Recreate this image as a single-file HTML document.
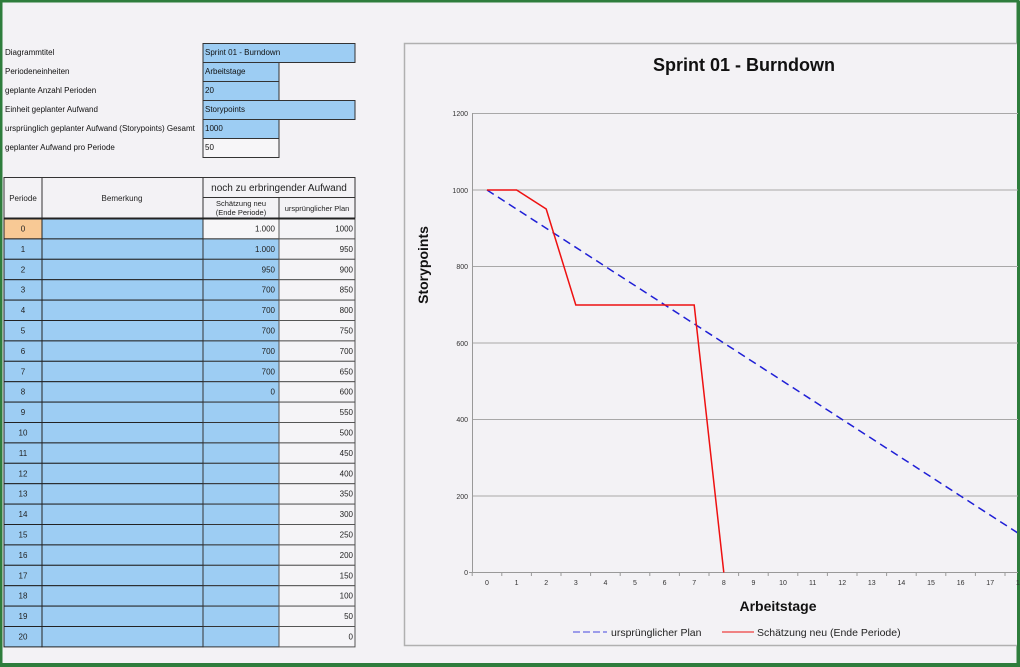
<!DOCTYPE html>
<html><head><meta charset="utf-8"><style>
html,body{margin:0;padding:0;background:#f3f2f5;}
svg{display:block;font-family:"Liberation Sans",Arial,sans-serif;}
</style></head><body>
<svg width="1020" height="667" viewBox="0 0 1020 667" xmlns="http://www.w3.org/2000/svg">
<rect x="0" y="0" width="1020" height="667" fill="#f3f2f5"/>
<rect x="1" y="1" width="1017" height="664" fill="none" stroke="#2e7d3c" stroke-width="3"/>

<g font-size="8" fill="#111">
<text x="5" y="55">Diagrammtitel</text>
<text x="5" y="74">Periodeneinheiten</text>
<text x="5" y="93">geplante Anzahl Perioden</text>
<text x="5" y="112">Einheit geplanter Aufwand</text>
<text x="5" y="131">ursprünglich geplanter Aufwand (Storypoints) Gesamt</text>
<text x="5" y="150">geplanter Aufwand pro Periode</text>
</g>
<g stroke="#333" stroke-width="1">
<rect x="203" y="43.5" width="152" height="19" fill="#9dcdf3"/>
<rect x="203" y="62.5" width="76" height="19" fill="#9dcdf3"/>
<rect x="203" y="81.5" width="76" height="19" fill="#9dcdf3"/>
<rect x="203" y="100.5" width="152" height="19" fill="#9dcdf3"/>
<rect x="203" y="119.5" width="76" height="19" fill="#9dcdf3"/>
<rect x="203" y="138.5" width="76" height="19" fill="#f7f6f8"/>
</g>
<g font-size="8" fill="#111">
<text x="205" y="55">Sprint 01 - Burndown</text>
<text x="205" y="74">Arbeitstage</text>
<text x="205" y="93">20</text>
<text x="205" y="112">Storypoints</text>
<text x="205" y="131">1000</text>
<text x="205" y="150">50</text>
</g>

<g stroke="#333" stroke-width="1" fill="#f3f2f5">
<rect x="4" y="177.5" width="38" height="41"/>
<rect x="42" y="177.5" width="161" height="41"/>
<rect x="203" y="177.5" width="152" height="20"/>
<rect x="203" y="197.5" width="76" height="21"/>
<rect x="279" y="197.5" width="76" height="21"/>
</g>
<g font-size="8" fill="#222" text-anchor="middle">
<text x="23" y="201">Periode</text>
<text x="122" y="201">Bemerkung</text>
<text x="279" y="191" font-size="10">noch zu erbringender Aufwand</text>
<text x="241" y="206" font-size="7.5">Schätzung neu</text>
<text x="241" y="215" font-size="7.5">(Ende Periode)</text>
<text x="317" y="211" font-size="7.5">ursprünglicher Plan</text>
</g>

<g id="rows" stroke="#222" stroke-width="1"></g>
<g id="rowtext" font-size="8" fill="#222"></g>

<rect x="404.5" y="43.5" width="620" height="602" fill="#f3f2f5" stroke="#b0b0b0" stroke-width="1.5"/>
<rect x="1017" y="1" width="3" height="666" fill="#2e7d3c"/>
<rect x="0" y="663" width="1020" height="4" fill="#2e7d3c"/>
<text x="744" y="71" font-size="18" font-weight="bold" text-anchor="middle" fill="#111">Sprint 01 - Burndown</text>
<g stroke="#a8a8a8" stroke-width="1">
<line x1="473" y1="113.5" x2="1018" y2="113.5"/>
<line x1="473" y1="190" x2="1018" y2="190"/>
<line x1="473" y1="266.5" x2="1018" y2="266.5"/>
<line x1="473" y1="343" x2="1018" y2="343"/>
<line x1="473" y1="419.5" x2="1018" y2="419.5"/>
<line x1="473" y1="496" x2="1018" y2="496"/>
<line x1="472.5" y1="113" x2="472.5" y2="573" stroke="#999"/>
<line x1="469" y1="572.5" x2="1018" y2="572.5" stroke="#999"/>
</g>
<g font-size="7" fill="#333" text-anchor="end">
<text x="468" y="116">1200</text><text x="468" y="193">1000</text><text x="468" y="269">800</text>
<text x="468" y="346">600</text><text x="468" y="422">400</text><text x="468" y="499">200</text><text x="468" y="575">0</text>
</g>
<g id="xt" font-size="7" fill="#333" text-anchor="middle" stroke="none"></g>
<text x="778" y="611" font-size="14" font-weight="bold" text-anchor="middle" fill="#111">Arbeitstage</text>
<text transform="translate(428,265) rotate(-90)" font-size="14" font-weight="bold" text-anchor="middle" fill="#111">Storypoints</text>
<svg x="0" y="0" width="1017" height="667">
<line x1="487" y1="190" x2="1079" y2="572.5" stroke="#1f1fd6" stroke-width="1.5" stroke-dasharray="8,5"/>
</svg>
<polyline points="487,190 516.6,190 546.2,209 575.8,305 605.4,305 635,305 664.6,305 694.2,305 723.8,572.5" fill="none" stroke="#ee1111" stroke-width="1.5"/>
<line x1="573" y1="632" x2="607" y2="632" stroke="#4646e0" stroke-width="1" stroke-dasharray="7,3"/>
<text x="611" y="636" font-size="10.5" fill="#222">ursprünglicher Plan</text>
<line x1="722" y1="632" x2="754" y2="632" stroke="#ee1111" stroke-width="1"/>
<text x="757" y="636" font-size="10.5" fill="#222">Schätzung neu (Ende Periode)</text>
</svg>
<script>
var ns="http://www.w3.org/2000/svg";
function el(p,t,a,txt){var e=document.createElementNS(ns,t);for(var k in a)e.setAttribute(k,a[k]);if(txt!=null)e.textContent=txt;p.appendChild(e);return e;}
var rows=document.getElementById('rows'),rt=document.getElementById('rowtext');
var est=["1.000","1.000","950","700","700","700","700","700","0"];
for(var i=0;i<=20;i++){
 var y=218.5+i*20.4,h=20.4;
 el(rows,'rect',{x:4,y:y,width:38,height:h,fill:i==0?'#f8c995':'#9dcdf3'});
 el(rows,'rect',{x:42,y:y,width:161,height:h,fill:'#9dcdf3'});
 el(rows,'rect',{x:203,y:y,width:76,height:h,fill:i==0?'#f7f6f8':'#9dcdf3',stroke:'#333'});
 el(rows,'rect',{x:279,y:y,width:76,height:h,fill:'#f5f4f7',stroke:'#555'});
 el(rt,'text',{x:23,y:y+13,'text-anchor':'middle'},String(i));
 if(i<est.length)el(rt,'text',{x:275,y:y+13,'text-anchor':'end'},est[i]);
 el(rt,'text',{x:353,y:y+13,'text-anchor':'end'},String(1000-50*i));
}
el(rows,'line',{x1:4,y1:218.5,x2:355,y2:218.5,'stroke-width':2});
var xt=document.getElementById('xt'),ax=document.querySelector('svg');
for(var j=0;j<19;j++){
 var cx=487+29.6*j;
 el(xt,'text',{x:cx,y:585},String(j));
 el(ax,'line',{x1:cx-14.8,y1:572,x2:cx-14.8,y2:576,stroke:'#999'});
}
</script>
</body></html>
